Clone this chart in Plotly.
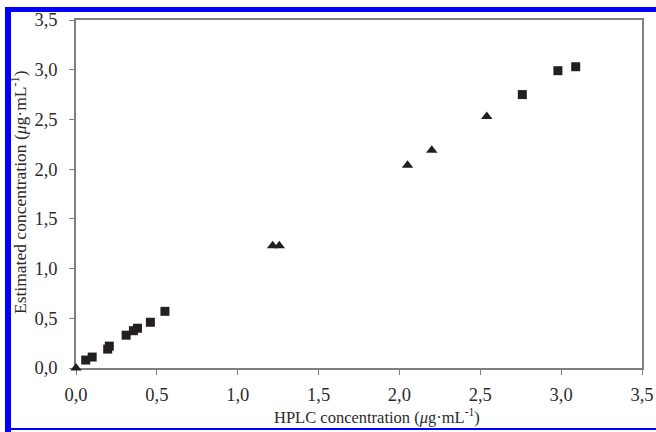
import plotly.graph_objects as go

# Squares series (HPLC vs estimated)
sq_x = [0.06, 0.10, 0.196, 0.206, 0.31, 0.355, 0.38, 0.46, 0.55, 2.76, 2.98, 3.09]
sq_y = [0.08, 0.11, 0.19, 0.22, 0.33, 0.375, 0.40, 0.46, 0.57, 2.75, 2.99, 3.03]
# Triangles series
tr_x = [0.0, 1.216, 1.257, 2.05, 2.20, 2.54]
tr_y = [0.0, 1.23, 1.23, 2.04, 2.19, 2.53]

tick_vals = [0.0, 0.5, 1.0, 1.5, 2.0, 2.5, 3.0, 3.5]
tick_text = ["0,0", "0,5", "1,0", "1,5", "2,0", "2,5", "3,0", "3,5"]

x_title = "HPLC concentration (<i>μ</i>g·mL<sup>-1</sup>)"
y_title = "Estimated concentration (<i>μ</i>g·mL<sup>-1</sup>)"

W, H = 656, 432
L, R, T, B = 76, 14, 20, 64
pw, ph = W - L - R, H - T - B

def px(x):
    return (x - L) / pw

def py(y):
    return (H - B - y) / ph

mk = "#231f20"
txt = "#2b2b2b"
fig = go.Figure()
fig.add_trace(go.Scatter(x=sq_x, y=sq_y, mode="markers", cliponaxis=False,
                         marker=dict(symbol="square", size=9, color=mk), showlegend=False))
fig.add_trace(go.Scatter(x=tr_x, y=tr_y, mode="markers", cliponaxis=False,
                         marker=dict(symbol="triangle-up", size=10, color=mk), showlegend=False))

axis_common = dict(range=[0, 3.5], tickvals=tick_vals, ticktext=tick_text,
                   showgrid=False, zeroline=False, showline=True, linecolor="#7f7f7f",
                   linewidth=1.5, mirror=True, ticks="outside", ticklen=5,
                   tickcolor="#7f7f7f", tickwidth=1, automargin=False, layer="below traces",
                   tickfont=dict(family="Liberation Serif", size=18.5, color=txt))

fig.update_xaxes(**axis_common, ticklabelstandoff=4)
fig.update_yaxes(**axis_common, ticklabelstandoff=8)

fig.add_annotation(text=x_title, xref="paper", yref="paper", x=px(377), y=py(416),
                   xanchor="center", yanchor="middle", showarrow=False,
                   font=dict(family="Liberation Serif", size=16.5, color=txt))
fig.add_annotation(text=y_title, xref="paper", yref="paper", x=px(19), y=py(192),
                   xanchor="center", yanchor="middle", showarrow=False, textangle=-90,
                   font=dict(family="Liberation Serif", size=17.5, color=txt))

shapes = [
    # top blue bar
    dict(type="rect", xref="paper", yref="paper", x0=px(5), x1=px(656), y0=py(12), y1=py(7),
         fillcolor="#0000ff", line=dict(width=0), layer="above"),
    # left blue bar
    dict(type="rect", xref="paper", yref="paper", x0=px(5), x1=px(11), y0=py(432), y1=py(7),
         fillcolor="#0000ff", line=dict(width=0), layer="above"),
    # bottom thin blue line
    dict(type="rect", xref="paper", yref="paper", x0=px(5), x1=px(656), y0=py(430), y1=py(428),
         fillcolor="#0000ff", line=dict(width=0), layer="above"),
]

fig.update_layout(width=W, height=H, margin=dict(l=L, r=R, t=T, b=B),
                  paper_bgcolor="white", plot_bgcolor="white",
                  shapes=shapes, showlegend=False)

fig.write_html("out.html", config={"displayModeBar": False},
               post_script="document.body.style.margin='0';document.body.style.padding='0';document.body.style.overflow='hidden';")
